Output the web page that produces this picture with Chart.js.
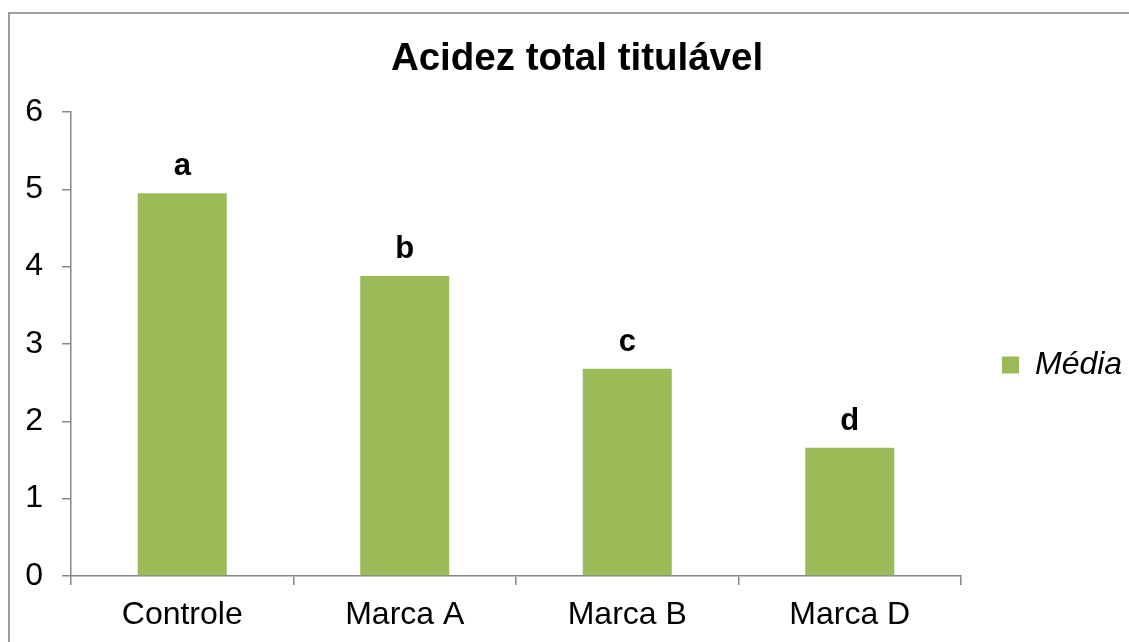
<!DOCTYPE html>
<html lang="pt">
<head>
    <meta charset="UTF-8">
    <title>Acidez total titulável</title>
    <script src="https://cdn.jsdelivr.net/npm/chart.js"></script>
    <style>
        html, body {
            margin: 0;
            padding: 0;
            background: #fff;
            overflow: hidden;
        }

        .wrap {
            position: relative;
            width: 1129px;
            height: 642px;
        }

        #grafico {
            position: absolute;
            left: 0;
            top: 0;
        }

        .moldura {
            position: absolute;
            left: 8px;
            top: 12px;
            width: 1300px;
            height: 800px;
            border-top: 2px solid #9f9f9f;
            border-left: 2px solid #9f9f9f;
            pointer-events: none;
        }
    </style>
</head>
<body>
    <div class="wrap">
        <canvas id="grafico" width="1129" height="642"></canvas>
        <div class="moldura"></div>
    </div>

    <script>
        // dados
        const categorias = ['Controle', 'Marca A', 'Marca B', 'Marca D'];
        const medias = [4.95, 3.88, 2.68, 1.66];
        const letras = ['a', 'b', 'c', 'd'];

        const fonte = '"Liberation Sans", Arial, sans-serif';
        const corEixo = '#868686';

        // letras de significância acima das barras
        const letrasPlugin = {
            id: 'letras',
            afterDatasetsDraw(chart) {
                const ctx = chart.ctx;
                const meta = chart.getDatasetMeta(0);
                ctx.save();
                ctx.font = 'bold 31px ' + fonte;
                ctx.fillStyle = '#000';
                ctx.textAlign = 'center';
                ctx.textBaseline = 'alphabetic';
                meta.data.forEach((bar, i) => {
                    ctx.fillText(letras[i], bar.x, bar.y - 18);
                });
                ctx.restore();
            }
        };

        new Chart(document.getElementById('grafico'), {
            type: 'bar',
            data: {
                labels: categorias,
                datasets: [{
                    label: 'Média',
                    data: medias,
                    backgroundColor: '#9BBB59',
                    borderWidth: 0,
                    categoryPercentage: 1,
                    barPercentage: 0.4
                }]
            },
            options: {
                responsive: false,
                animation: false,
                layout: {
                    padding: { left: 25, right: 0, top: 0, bottom: 0 }
                },
                plugins: {
                    tooltip: { enabled: false },
                    title: {
                        display: true,
                        text: 'Acidez total titulável',
                        color: '#000',
                        font: { family: fonte, size: 38.5, weight: 'bold' },
                        padding: { top: 36, bottom: 29.8 }
                    },
                    legend: {
                        position: 'right',
                        fullSize: false,
                        maxWidth: 168,
                        title: {
                            display: true,
                            text: '',
                            padding: 0,
                            font: { size: 35 }
                        },
                        labels: {
                            color: '#000',
                            boxWidth: 17,
                            boxHeight: 17,
                            padding: 41,
                            font: { family: fonte, size: 32, style: 'italic' }
                        }
                    }
                },
                scales: {
                    x: {
                        afterFit(scale) { scale.height = 66; },
                        border: { display: true, color: corEixo, width: 1.5 },
                        grid: {
                            display: true,
                            drawOnChartArea: false,
                            drawTicks: true,
                            tickLength: 9,
                            color: corEixo,
                            lineWidth: 1.5
                        },
                        ticks: {
                            color: '#000',
                            padding: 11,
                            font: { family: fonte, size: 32 }
                        }
                    },
                    y: {
                        min: 0,
                        max: 6,
                        afterFit(scale) { scale.width = 46; },
                        border: { display: true, color: corEixo, width: 1.5 },
                        grid: {
                            display: true,
                            drawOnChartArea: false,
                            drawTicks: true,
                            tickLength: 9,
                            color: corEixo,
                            lineWidth: 1.5
                        },
                        ticks: {
                            stepSize: 1,
                            color: '#000',
                            padding: 19,
                            font: { family: fonte, size: 32 }
                        }
                    }
                }
            },
            plugins: [letrasPlugin]
        });
    </script>
</body>
</html>
